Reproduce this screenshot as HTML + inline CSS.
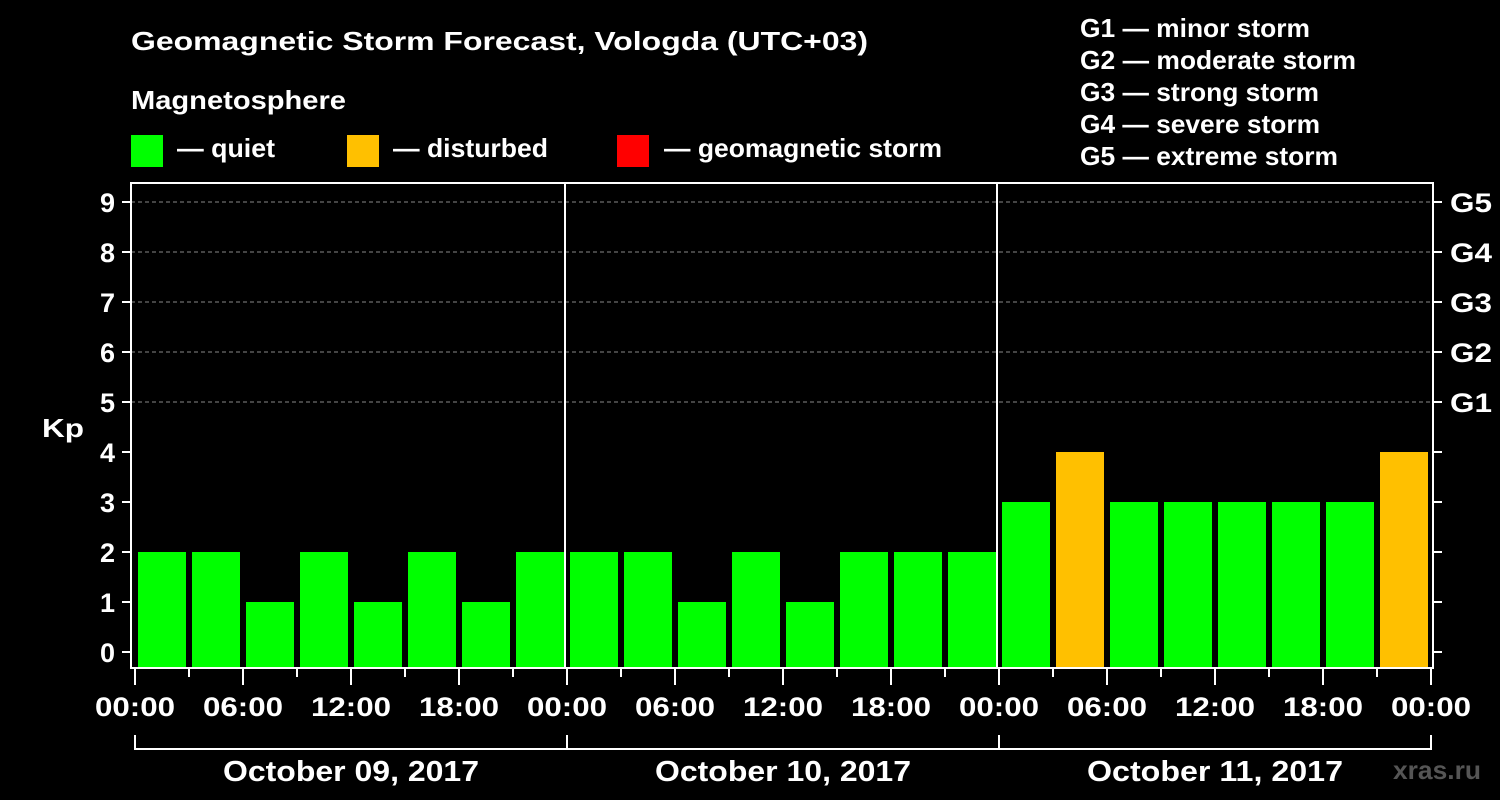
<!DOCTYPE html>
<html><head><meta charset="utf-8"><style>
html,body{margin:0;padding:0;background:#000;}
svg{display:block;font-family:"Liberation Sans",Arial,sans-serif;font-weight:bold;}
</style></head><body>
<svg id="chart" width="1500" height="800" viewBox="0 0 1500 800">
<text x="131" y="50" font-size="26" fill="#fff" textLength="737" lengthAdjust="spacingAndGlyphs">Geomagnetic Storm Forecast, Vologda (UTC+03)</text>
<text x="131" y="109" font-size="26" fill="#fff" textLength="215" lengthAdjust="spacingAndGlyphs">Magnetosphere</text>
<g><rect x="131" y="135" width="32" height="32" fill="#00ff00"/><text x="177" y="157" font-size="26" fill="#fff" textLength="98" lengthAdjust="spacingAndGlyphs">— quiet</text></g>
<g><rect x="347" y="135" width="32" height="32" fill="#ffc000"/><text x="393" y="157" font-size="26" fill="#fff" textLength="155" lengthAdjust="spacingAndGlyphs">— disturbed</text></g>
<g><rect x="617" y="135" width="32" height="32" fill="#ff0000"/><text x="664" y="157" font-size="26" fill="#fff" textLength="278" lengthAdjust="spacingAndGlyphs">— geomagnetic storm</text></g>
<g font-size="26" fill="#fff">
<text x="1080" y="37" textLength="230" lengthAdjust="spacingAndGlyphs">G1 — minor storm</text>
<text x="1080" y="69" textLength="276" lengthAdjust="spacingAndGlyphs">G2 — moderate storm</text>
<text x="1080" y="101" textLength="239" lengthAdjust="spacingAndGlyphs">G3 — strong storm</text>
<text x="1080" y="133" textLength="240" lengthAdjust="spacingAndGlyphs">G4 — severe storm</text>
<text x="1080" y="165" textLength="258" lengthAdjust="spacingAndGlyphs">G5 — extreme storm</text>
</g>
<text x="42" y="437" font-size="26" fill="#fff" textLength="42" lengthAdjust="spacingAndGlyphs">Kp</text>
<text x="1393" y="779" font-size="26" fill="#555" textLength="88" lengthAdjust="spacingAndGlyphs">xras.ru</text>
<g id="grid"></g>
<g id="bars"></g>
<g id="axes"></g>
</svg>
<script>
const kpValues = [2,2,1,2,1,2,1,2, 2,2,1,2,1,2,2,2, 3,4,3,3,3,3,3,4];
const xTickLabels = ["00:00","06:00","12:00","18:00","00:00","06:00","12:00","18:00","00:00","06:00","12:00","18:00","00:00"];
const dayLabels = ["October 09, 2017","October 10, 2017","October 11, 2017"];
const yTicks = [0,1,2,3,4,5,6,7,8,9];
const gLabels = ["G1","G2","G3","G4","G5"];

const NS="http://www.w3.org/2000/svg";
const x0=135, slot=54, plotTop=183, plotBottom=668;
const xs = i => x0 + i*slot;
const ys = v => 652 - 50*v;
function mk(tag, attrs, parent, text){const e=document.createElementNS(NS,tag);for(const k in attrs)e.setAttribute(k,attrs[k]);if(text!==undefined)e.textContent=text;document.getElementById(parent).appendChild(e);return e;}
function color(v){return v>=5?"#ff0000":(v>=4?"#ffc000":"#00ff00");}

yTicks.filter(v=>v>=5).forEach(v=>{
  const l=mk("line",{x1:131,x2:1433,y1:ys(v),y2:ys(v),stroke:"#888","stroke-width":1,"stroke-dasharray":"4,3"},"grid");
  
  
});
kpValues.forEach((v,i)=>{
  const r=mk("rect",{x:xs(i)+3,y:ys(v),width:48,height:plotBottom-ys(v),fill:color(v)},"bars");
  
  
});
const fr=mk("rect",{x:131,y:plotTop,width:1302,height:plotBottom-plotTop,fill:"none",stroke:"#fff","stroke-width":2},"axes");


[1,2].forEach(d=>{
  const l=mk("line",{x1:xs(d*8)-2,x2:xs(d*8)-2,y1:plotTop,y2:plotBottom,stroke:"#fff","stroke-width":2},"axes");
  
  
});
yTicks.forEach(v=>{
  mk("line",{x1:122,x2:131,y1:ys(v),y2:ys(v),stroke:"#fff","stroke-width":2},"axes");
  mk("line",{x1:1433,x2:1442,y1:ys(v),y2:ys(v),stroke:"#fff","stroke-width":2},"axes");
  const t=mk("text",{x:115,y:ys(v)+10,"font-size":27,fill:"#fff","text-anchor":"end"},"axes",String(v));
  
  
});
gLabels.forEach((g,i)=>{
  const t=mk("text",{x:1450,y:ys(5+i)+10,"font-size":27,fill:"#fff",textLength:42,lengthAdjust:"spacingAndGlyphs"},"axes",g);
  
  
});
for(let i=0;i<=24;i++){
  const major=i%2===0;
  mk("line",{x1:xs(i),x2:xs(i),y1:plotBottom,y2:major?685:677,stroke:"#fff","stroke-width":2},"axes");
}
xTickLabels.forEach((s,i)=>{
  const t=mk("text",{x:xs(i*2)-40,y:716,"font-size":27,fill:"#fff",textLength:80,lengthAdjust:"spacingAndGlyphs"},"axes",s);
  
  
});
dayLabels.forEach((s,d)=>{
  const a=xs(d*8), b=xs(d*8+8);
  mk("path",{d:`M${a} 735 V749 H${b} V735`,fill:"none",stroke:"#fff","stroke-width":2},"axes");
  const t=mk("text",{x:(a+b)/2-128,y:781,"font-size":29,fill:"#fff",textLength:256,lengthAdjust:"spacingAndGlyphs"},"axes",s);
  
  
});
</script>
</body></html>
